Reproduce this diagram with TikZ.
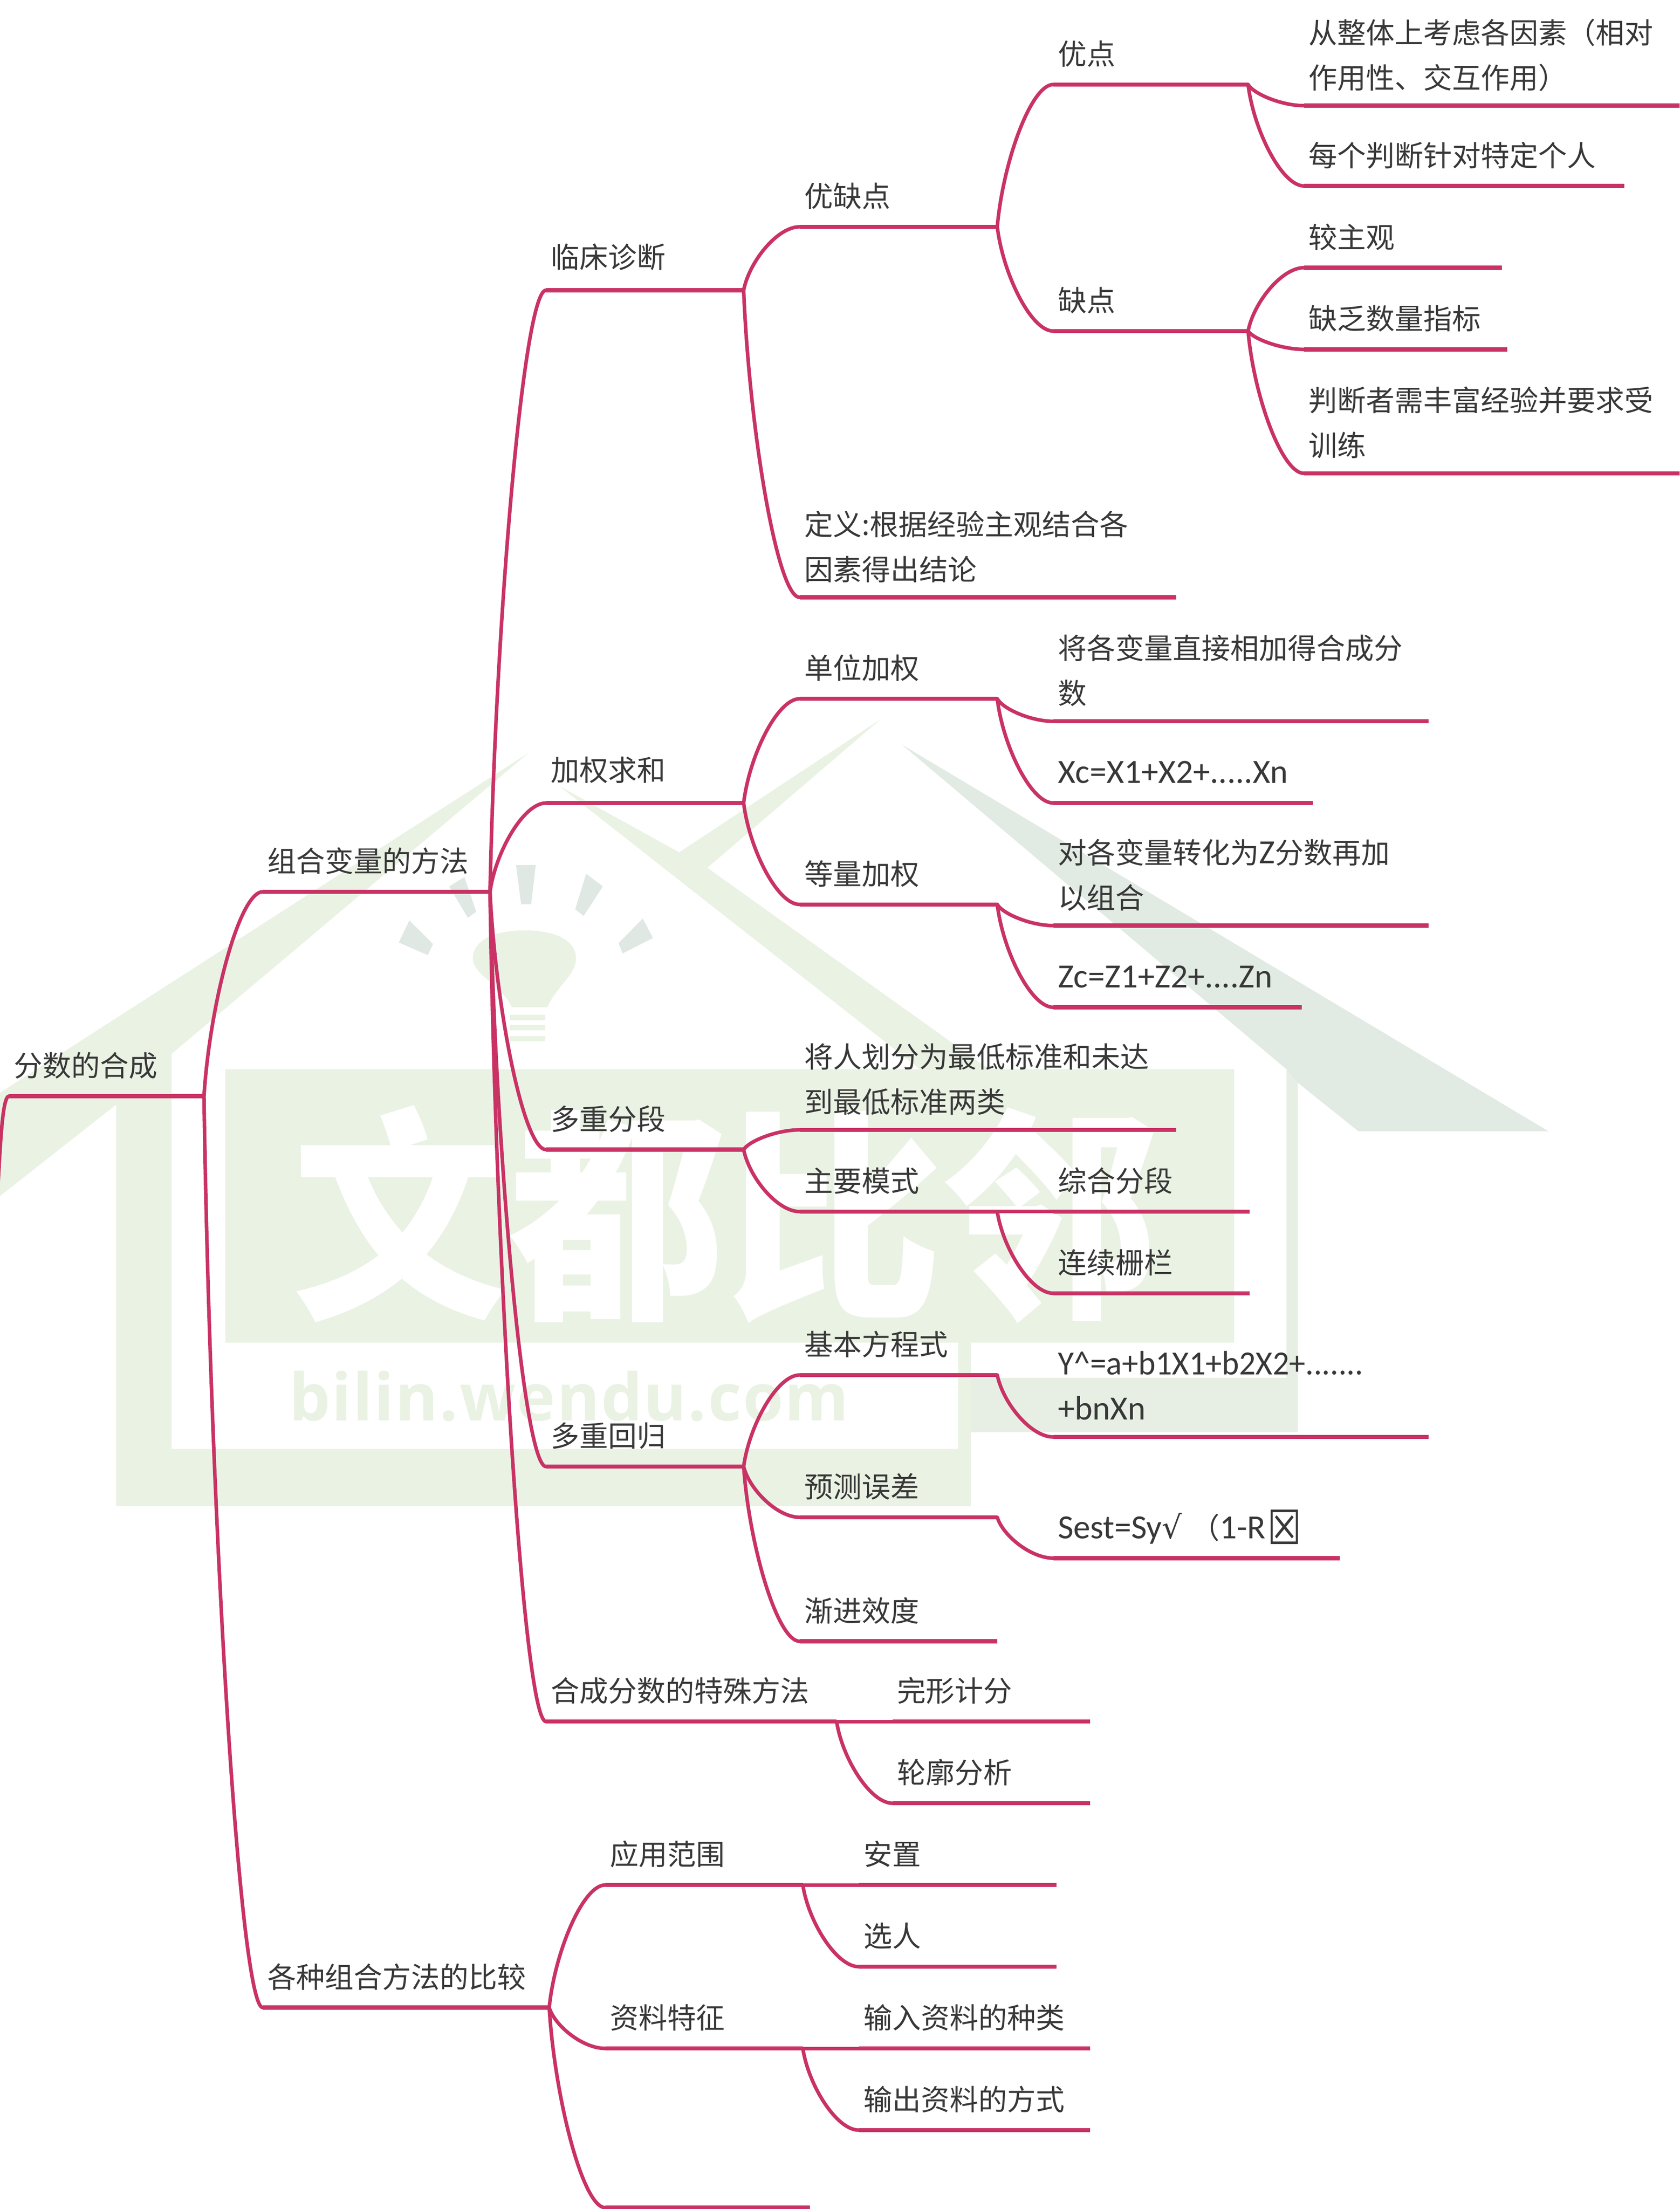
\documentclass[tikz,border=0pt]{standalone}
\usepackage{fontspec}
\usepackage{graphicx}
\usetikzlibrary{calc}
\setmainfont{Noto Sans CJK SC}
\newfontfamily\lat[Scale=1.18]{Carlito}
\newfontfamily\dv[Scale=1.1]{DejaVu Sans}
\newfontfamily\wmlat[LetterSpace=2]{Open Sans}
\definecolor{brc}{HTML}{C93265}
\definecolor{txc}{HTML}{383838}
\definecolor{wmg}{HTML}{EAF2E4}
\definecolor{wmb}{HTML}{E2EBE3}
\definecolor{wmc}{HTML}{E7EFE5}
\definecolor{wmr}{HTML}{E0E8E3}
\tikzset{
  tnode/.style={inner xsep=4.5pt,inner ysep=0pt,anchor=south west,align=left,text=txc,
    font=\fontsize{29}{45.5}\selectfont},
  branch/.style={draw=brc,line width=4.2pt,line cap=butt},
  linkline/.style={draw=brc,line width=3.6pt,line cap=round},
  wm/.style={fill=wmg,draw=none},
  wmband/.style={fill=wmb,draw=none},
  wmlow/.style={fill=wmc,draw=none},
  wmray/.style={fill=wmr,draw=none}
}
\newcommand{\tn}[6]{%
  \pgfmathsetlengthmacro\tnw{(#3-#2)*1.42264pt-9pt}%
  \pgfmathsetlengthmacro\tnd{(#5-1)*45.5pt+19.8pt-(#5-1)*2.6pt}%
  \node[tnode,text width=\tnw,text depth=\tnd] (#1) at ({#2-0.5},#4) {#6};%
  \draw[branch] (#1.south west) -- (#1.south east);}
\newcommand{\lnk}[2]{%
  \draw[linkline] let \p1=(#1.south east),\p2=(#2.south west) in
    (\p1) .. controls ({\x1+0.1*(\x2-\x1)},{\y1+0.45*(\y2-\y1)})
    and ({\x1+0.6*(\x2-\x1)},\y2) .. (\p2);}
\begin{document}
\begin{tikzpicture}[x=0.05cm,y=-0.05cm]
\clip (0,0) rectangle (1192,1568);
\fill[white] (0,0) rectangle (1192,1568);
% watermark
\fill[wm] (0,775.7) -- (375,534.5) -- (121.8,748) -- (121.8,1028.5) -- (680,1028.5) -- (680,953) -- (689,953) -- (689,1069) -- (82.5,1069) -- (82.5,784) -- (0,849) -- cycle;
\fill[wm] (160,759) rectangle (876,953);
\fill[wm] (397,558) -- (482,605) -- (625,510.5) -- (502,616) -- (702,759) -- (653,759) -- cycle;
\fill[wmband] (640,528.5) -- (1099,803) -- (964,803) -- (921,768.5) -- (913,759) -- cycle;
\fill[wmlow] (921,768.5) -- (921,1016.6) -- (689,1016.6) -- (689,978) -- (913,978) -- (913,759) -- cycle;
\fill[wm] (372.2,660.4) .. controls (395,660.4) and (408.8,668) .. (408.8,680.2) .. controls (408.8,692) and (395,700) .. (388.4,715) -- (363.2,715) .. controls (357,700) and (335.6,692) .. (335.6,680.2) .. controls (335.6,668) and (350,660.4) .. (372.2,660.4) -- cycle;
\fill[wm] (362,720.4) rectangle (387,724);
\fill[wm] (362,727.6) rectangle (387,731.2);
\fill[wm] (362,735.4) rectangle (387,739);
\fill[wmray] (366.2,614) -- (380.2,614) -- (377,641.8) -- (369.8,641.8) -- cycle;
\fill[wmray] (416,620.2) -- (427.8,629.2) -- (414.2,650.2) -- (408.2,645.4) -- cycle;
\fill[wmray] (456.2,652) -- (463.4,665.8) -- (441.8,676.8) -- (439,669.4) -- cycle;
\fill[wmray] (318.8,629.2) -- (329.6,622.6) -- (338,647.2) -- (332,651.4) -- cycle;
\fill[wmray] (290.5,653.3) -- (307.3,670.1) -- (303.6,678) -- (283,669) -- cycle;
\node[text=white,inner sep=0pt,font=\fontsize{228}{228}\selectfont\bfseries] (wmtitle) at (515,862) {\scalebox{0.96}[1]{文都比邻}};
\node[text=wmg,inner sep=0pt,anchor=west,font=\wmlat\bfseries\fontsize{66}{66}\selectfont] (wmurl) at (205,991) {bilin.wendu.com};
% nodes
\coordinate (rootin) at (-3,870);
\tn{root}{7}{145}{778}{1}{分数的合成}
\tn{combo}{187}{348}{633}{1}{组合变量的方法}
\tn{compare}{187}{390}{1425}{1}{各种组合方法的比较}
\tn{clin}{388}{528}{206}{1}{\raisebox{2.5pt}{临床诊断}}
\tn{wsum}{388}{528}{570}{1}{\raisebox{2.5pt}{加权求和}}
\tn{cutoff}{388}{528}{816}{1}{多重分段}
\tn{regress}{388}{528}{1041}{1}{多重回归}
\tn{special}{388}{594}{1222}{1}{合成分数的特殊方法}
\tn{pros}{568}{708}{161}{1}{优缺点}
\tn{defn}{568}{835}{424}{2}{定义:根据经验主观结合各\\因素得出结论}
\tn{good}{748}{886}{60}{1}{优点}
\tn{bad}{748}{886}{235}{1}{缺点}
\tn{g1}{926}{1193}{75}{2}{从整体上考虑各因素（相对\\作用性、交互作用）}
\tn{g2}{926}{1153}{132}{1}{每个判断针对特定个人}
\tn{b1}{926}{1066}{190}{1}{较主观}
\tn{b2}{926}{1070}{248}{1}{缺乏数量指标}
\tn{b3}{926}{1193}{336}{2}{判断者需丰富经验并要求受\\训练}
\tn{unit}{568}{708}{496}{1}{单位加权}
\tn{equal}{568}{708}{642}{1}{等量加权}
\tn{u1}{748}{1014}{512}{2}{将各变量直接相加得合成分\\数}
\tn{u2}{748}{932}{570}{1}{{\lat Xc=X1+X2+.....Xn}}
\tn{e1}{748}{1014}{657}{2}{对各变量转化为{\lat Z}分数再加\\以组合}
\tn{e2}{748}{924}{715}{1}{{\lat Zc=Z1+Z2+....Zn}}
\tn{c1}{568}{835}{802}{2}{将人划分为最低标准和未达\\到最低标准两类}
\tn{c2}{568}{708}{860}{1}{主要模式}
\tn{m1}{748}{887}{860}{1}{综合分段}
\tn{m2}{748}{887}{918}{1}{连续栅栏}
\tn{r1}{568}{708}{976}{1}{基本方程式}
\tn{r1a}{748}{1014}{1020}{2}{\scalebox{0.965}[1]{\lat Y\textasciicircum=a+b1X1+b2X2+.......}\\{\lat +bnXn}}
\tn{r2}{568}{708}{1077}{1}{预测误差}
\tn{r2a}{748}{951}{1106}{1}{{\lat Sest=Sy}{\dv √}\hspace{9pt}（{\lat 1-R}\hspace{2pt}\raisebox{-6pt}{\dv\scalebox{1.2}[1.5]{☒}}}
\tn{r3}{568}{708}{1165}{1}{渐进效度}
\tn{s1}{634}{774}{1222}{1}{完形计分}
\tn{s2}{634}{774}{1280}{1}{轮廓分析}
\tn{app}{430}{570}{1338}{1}{应用范围}
\tn{data}{430}{570}{1454}{1}{资料特征}
\tn{blank}{430}{575}{1567}{1}{}
\tn{a1}{610}{750}{1338}{1}{安置}
\tn{a2}{610}{750}{1396}{1}{选人}
\tn{d1}{610}{774}{1454}{1}{输入资料的种类}
\tn{d2}{610}{774}{1512}{1}{输出资料的方式}
% connectors
\draw[linkline] (rootin) .. controls (0,820) and (1,778) .. (root.south west);
\lnk{root}{combo}
\lnk{root}{compare}
\lnk{combo}{clin}
\lnk{combo}{wsum}
\lnk{combo}{cutoff}
\lnk{combo}{regress}
\lnk{combo}{special}
\lnk{clin}{pros}
\lnk{clin}{defn}
\lnk{pros}{good}
\lnk{pros}{bad}
\lnk{good}{g1}
\lnk{good}{g2}
\lnk{bad}{b1}
\lnk{bad}{b2}
\lnk{bad}{b3}
\lnk{wsum}{unit}
\lnk{wsum}{equal}
\lnk{unit}{u1}
\lnk{unit}{u2}
\lnk{equal}{e1}
\lnk{equal}{e2}
\lnk{cutoff}{c1}
\lnk{cutoff}{c2}
\lnk{c2}{m1}
\lnk{c2}{m2}
\lnk{regress}{r1}
\lnk{regress}{r2}
\lnk{regress}{r3}
\lnk{r1}{r1a}
\lnk{r2}{r2a}
\lnk{special}{s1}
\lnk{special}{s2}
\lnk{compare}{app}
\lnk{compare}{data}
\lnk{compare}{blank}
\lnk{app}{a1}
\lnk{app}{a2}
\lnk{data}{d1}
\lnk{data}{d2}
\end{tikzpicture}
\end{document}
